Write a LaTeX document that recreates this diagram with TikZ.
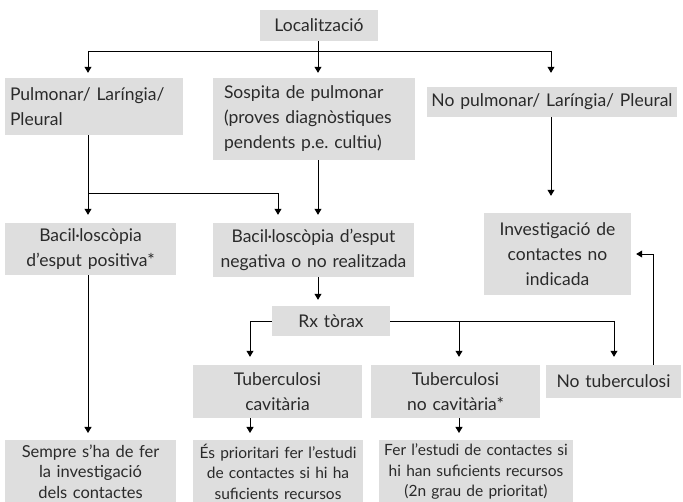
\documentclass[tikz,border=0pt]{standalone}
\usepackage{fontspec}
\setmainfont{Lato}
\usetikzlibrary{arrows.meta,calc}
\definecolor{boxgray}{HTML}{DEDEDE}
\definecolor{txt}{HTML}{2A2A2A}
\frenchspacing
\begin{document}
\begin{tikzpicture}[x=1pt,y=-1pt,
  box/.style={fill=boxgray, inner xsep=5pt, inner ysep=1pt, align=center, text=txt,
    font=\fontsize{17.5}{25}\selectfont},
  sbox/.style={box, font=\fontsize{15.5}{20.5}\selectfont},
  sz/.style n args={3}{minimum width=#1, minimum height=#2, text width=#3},
  con/.style={line width=0.8pt, draw=black},
  arr/.style={con, -{Triangle[width=7pt,length=6pt]}, shorten >=5pt}]
\useasboundingbox (0,0) rectangle (683,502);
% columns and levels
\coordinate (cL) at (88,0);
\coordinate (cM) at (318,0);
\coordinate (cR) at (551,0);
\coordinate (cN) at (278,0);
\coordinate (cT1) at (250,0);
\coordinate (cT2) at (459,0);
\coordinate (cT3) at (614,0);
\coordinate (cF) at (653,0);
\coordinate (h1) at (0,51);
\coordinate (h2) at (0,193);
% nodes
\node[box, sz={118}{31}{108}] (loc) at (319,25.5) {Localització};
\node[box, sz={178}{57}{168}, align=left] (pul) at (94,106.5) {Pulmonar/ Laríngia/\\Pleural};
\node[box, sz={202}{82}{180}, align=left] (sos) at (314,119) {Sospita de pulmonar\\(proves diagnòstiques\\pendents p.e. cultiu)};
\node[box, sz={250}{30}{248}, inner xsep=1pt] (nop) at (552,102) {No pulmonar/ Laríngia/ Pleural};
\node[box, sz={147}{82}{137}] (inv) at (557.5,254) {Investigació de\\contactes no\\indicada};
\node[box, sz={171}{52}{161}] (bpos) at (90.5,249) {Bacil·loscòpia\\d'esput positiva*};
\node[box, sz={201}{54}{191}] (bneg) at (313.5,250) {Bacil·loscòpia d'esput\\negativa o no realitzada};
\node[box, sz={118}{30}{108}] (rx) at (331,321) {Rx tòrax};
\node[box, sz={169}{53}{159}] (tub1) at (277.5,391.5) {Tuberculosi\\cavitària};
\node[box, sz={169}{53}{159}] (tub2) at (455.5,391.5) {Tuberculosi\\no cavitària*};
\node[box, sz={135}{33}{125}] (notub) at (613.5,381.5) {No tuberculosi};
\node[sbox, sz={171}{63}{165}, anchor=north, inner xsep=3pt, inner ysep=0pt, font=\fontsize{16.5}{20.5}\selectfont] (sem) at (90.5,440) {Sempre s'ha de fer\\la investigació\\dels contactes};
\node[sbox, sz={170}{63}{166}, anchor=north, inner xsep=2pt, inner ysep=0pt] (ep1) at (278,440) {És prioritari fer l'estudi\\de contactes si hi ha\\suficients recursos};
\node[sbox, sz={194}{63}{190}, anchor=north, inner xsep=2pt, inner ysep=0pt] (ep2) at (476,440) {Fer l'estudi de contactes si\\hi han suficients recursos\\(2n grau de prioritat)};
% connectors
\draw[con] (loc.south -| cM) -- (cM |- h1);
\draw[con] (cL |- h1) -- (cR |- h1);
\draw[arr] (cL |- h1) -- (cL |- pul.north);
\draw[arr] (cM |- h1) -- (cM |- sos.north);
\draw[arr] (cR |- h1) -- (cR |- pul.north);
\draw[arr, shorten >=8pt] (cL |- pul.south) -- (cL |- bpos.north);
\draw[arr, shorten >=8pt] (cL |- h2) -| (cN |- bneg.north);
\draw[arr, shorten >=8pt] (cM |- sos.south) -- (cM |- bneg.north);
\draw[arr, shorten >=17pt] (cR |- nop.south) -- (cR |- inv.north);
\draw[arr, shorten >=7pt] (cL |- bpos.south) -- (cL |- sem.north);
\draw[arr, shorten >=6pt] (cM |- bneg.south) -- (cM |- rx.north);
\draw[arr, shorten >=8pt] (rx.west) -| (cT1 |- tub1.north);
\draw[con] (rx.east) -- (cT3 |- rx.east);
\draw[arr, shorten >=8pt] (cT2 |- rx.east) -- (cT2 |- tub2.north);
\draw[arr, shorten >=8pt] (cT3 |- rx.east) -- (cT3 |- tub2.north);
\draw[arr, shorten >=7pt] (cT1 |- tub1.south) -- (cT1 |- ep1.north);
\draw[arr, shorten >=7pt] (cT2 |- tub2.south) -- (cT2 |- ep2.north);
\draw[arr] (cF |- notub.north) |- (inv.east);
\end{tikzpicture}
\end{document}
